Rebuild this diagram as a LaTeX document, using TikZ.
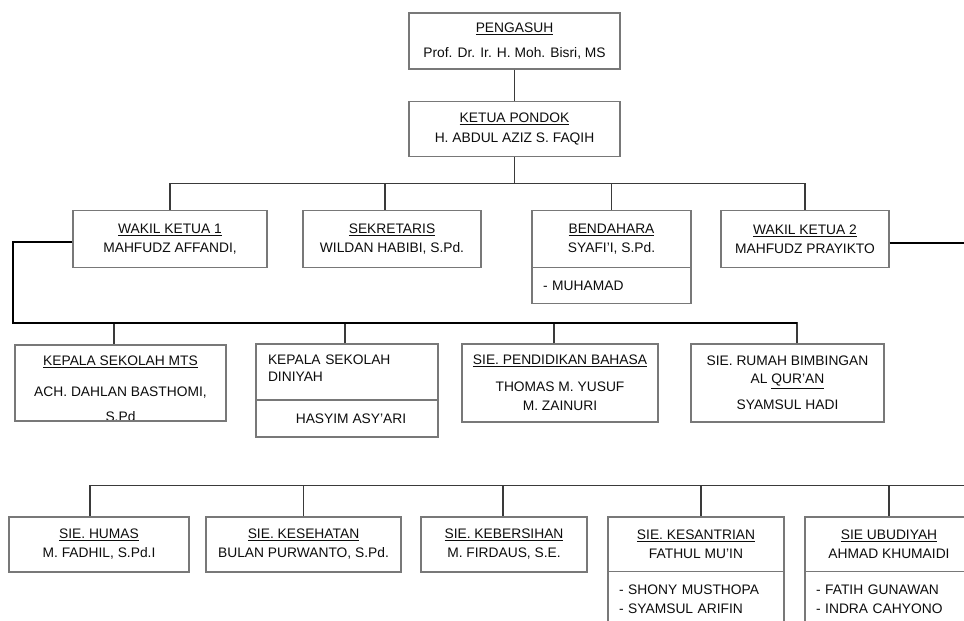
\documentclass[tikz,border=0pt]{standalone}
\usepackage{fontspec}
\setmainfont{Liberation Sans}
\definecolor{boxline}{HTML}{787878}
\definecolor{linkline}{HTML}{3A3A3A}
\tikzstyle{unit} = [rectangle, draw=boxline, line width=1.3pt, fill=white, inner sep=0pt, text centered, align=center, text=black!95, font=\fontsize{13.8}{19}\selectfont]
\tikzstyle{subunit} = [unit, align=left, inner xsep=11pt]
\tikzstyle{link} = [draw=linkline, line width=1.2pt]
\tikzstyle{mainlink} = [draw=black, line width=2pt]

\begin{document}
\begin{tikzpicture}[node distance=110pt]
\useasboundingbox (0,0) rectangle (964pt,-621pt);

\node (pengasuh) [unit, minimum width=211pt, minimum height=56pt] at (514.5pt,-41pt) {\underline{PENGASUH}\\[6pt]Prof. Dr. Ir. H. Moh. Bisri, MS};
\node (ketua) [unit, below of=pengasuh, yshift=22pt, minimum width=211pt, minimum height=55pt] {\underline{KETUA PONDOK}\\[1pt]H. ABDUL AZIZ S. FAQIH};
\draw [link] (pengasuh) -- (ketua);

% pengurus harian
\node (wakil1) [unit, below of=ketua, xshift=-344.5pt, minimum width=194pt, minimum height=57pt] {\underline{WAKIL KETUA 1}\\MAHFUDZ AFFANDI,};
\node (sekretaris) [unit, below of=ketua, xshift=-122.5pt, minimum width=178pt, minimum height=57pt] {\underline{SEKRETARIS}\\WILDAN HABIBI, S.Pd.};
\node (bendahara) [unit, below of=ketua, xshift=97pt, minimum width=159pt, minimum height=57pt] {\underline{BENDAHARA}\\SYAFI’I, S.Pd.};
\node (bendaharaSub) [subunit, below of=bendahara, yshift=63.5pt, text width=137pt, minimum height=36pt] {- MUHAMAD};
\node (wakil2) [unit, below of=ketua, xshift=290.5pt, minimum width=168pt, minimum height=57pt] {\underline{WAKIL KETUA 2}\\MAHFUDZ PRAYIKTO};
\draw [link] (ketua.south) -- ++(0,-26.5pt) coordinate (hub1);
\draw [link] (wakil1.north) |- (hub1) -| (wakil2.north);
\draw [link] ([xshift=-7pt]sekretaris.north) |- (hub1);
\draw [link] (bendahara.north) |- (hub1);
\draw [mainlink] ([yshift=-4pt]wakil2.east) -- ++(80pt,0);

% kepala sekolah dan seksi
\node (kepMts) [unit, below of=wakil1, xshift=-49.5pt, yshift=-34pt, minimum width=211pt, minimum height=76pt,
  path picture={\node [font=\fontsize{13.8}{19}\selectfont, text=black!95] at ([yshift=-34pt]path picture bounding box.center) {S.Pd};}]
  {\underline{KEPALA SEKOLAH MTS}\\[12pt]ACH. DAHLAN BASTHOMI,\\[-6pt]\phantom{S.Pd}};
\node (kepDiniyah) [subunit, inner xsep=12pt, below of=sekretaris, xshift=-45pt, yshift=-23pt, text width=158pt, minimum height=56pt] {KEPALA SEKOLAH\\[-2pt]DINIYAH\\[-11pt]\phantom{X}};
\node (kepDiniyahSub) [unit, below of=kepDiniyah, yshift=63.5pt, minimum width=182pt, minimum height=37pt] {\hspace*{8pt}HASYIM ASY’ARI};
\node (sieBahasa) [unit, below of=bendahara, xshift=-51.5pt, yshift=-34pt, minimum width=196pt, minimum height=78pt] {\underline{SIE. PENDIDIKAN BAHASA}\\[8pt]THOMAS M. YUSUF\\M. ZAINURI};
\node (sieRumah) [unit, below of=wakil2, xshift=-17.5pt, yshift=-34pt, minimum width=193pt, minimum height=78pt] {SIE. RUMAH BIMBINGAN\\[-1pt]AL \underline{QUR’AN}\\[7pt]SYAMSUL HADI};
\coordinate (rumahTop) at ([xshift=9.5pt]sieRumah.north);
\draw [link] ([xshift=-6.5pt]kepMts.north) |- ++(0,22pt) coordinate (hub2);
\draw [link] ([xshift=-2pt]kepDiniyah.north) |- (hub2);
\draw [link] ([xshift=-6pt]sieBahasa.north) |- (hub2);
\draw [link] (rumahTop) |- (hub2);
\draw [mainlink] ([yshift=-3pt]wakil1.west) -| ++(-59pt,-81pt) coordinate (hub2w) -- (hub2w -| rumahTop);

% seksi-seksi
\node (sieHumas) [unit, below of=kepMts, xshift=-21.5pt, yshift=-51.5pt, minimum width=180pt, minimum height=55pt] {\underline{SIE. HUMAS}\\M. FADHIL, S.Pd.I};
\node (sieKesehatan) [unit, right of=sieHumas, xshift=94.5pt, minimum width=195pt, minimum height=55pt] {\underline{SIE. KESEHATAN}\\BULAN PURWANTO, S.Pd.};
\node (sieKebersihan) [unit, right of=sieKesehatan, xshift=90.5pt, minimum width=166pt, minimum height=55pt] {\underline{SIE. KEBERSIHAN}\\M. FIRDAUS, S.E.};
\node (sieKesantrian) [unit, right of=sieKebersihan, xshift=82pt, minimum width=176pt, minimum height=55pt] {\underline{SIE. KESANTRIAN}\\FATHUL MU’IN};
\node (sieKesantrianSub) [subunit, below of=sieKesantrian, yshift=55pt, text width=154pt, minimum height=56pt] {- SHONY MUSTHOPA\\- SYAMSUL ARIFIN};
\node (sieUbudiyah) [unit, right of=sieKesantrian, xshift=83pt, minimum width=168pt, minimum height=55pt] {\underline{SIE UBUDIYAH}\\AHMAD KHUMAIDI};
\node (sieUbudiyahSub) [subunit, below of=sieUbudiyah, yshift=55pt, text width=146pt, minimum height=56pt] {- FATIH GUNAWAN\\- INDRA CAHYONO};
\draw [link] ([xshift=-9pt]sieHumas.north) -- ++(0,31pt) coordinate (hub3) -- ++(880pt,0);
\draw [link] (sieKesehatan.north) |- (hub3);
\draw [link] ([xshift=-1pt]sieKebersihan.north) |- (hub3);
\draw [link] ([xshift=5pt]sieKesantrian.north) |- (hub3);
\draw [link] (sieUbudiyah.north) |- (hub3);

\end{tikzpicture}
\end{document}
